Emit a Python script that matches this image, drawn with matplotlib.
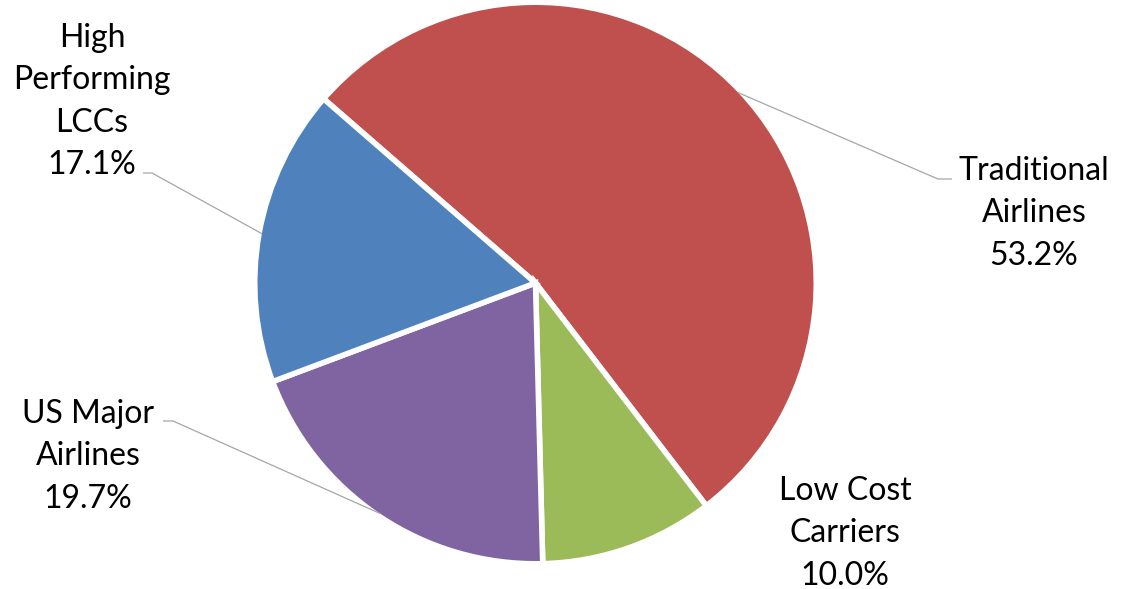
import numpy as np
import matplotlib
matplotlib.use("Agg")
import matplotlib.pyplot as plt

# ---- data ----
categories = ["Traditional\nAirlines", "Low Cost\nCarriers", "US Major\nAirlines", "High\nPerforming\nLCCs"]
shares = [53.2, 10.0, 19.7, 17.1]
colors = ["#C0504D", "#9BBB59", "#8064A2", "#4F81BD"]

# ---- layout (pixel coordinates, y from top) ----
W, H = 1124, 589
cx, cy_img, R = 535.5, 283, 278
edge_lw = 4.0  # points
label_center_x = [1034, 845, 88, 92]
label_first_baseline = [180, 500, 423, 47]
line_step = 42.3
# leader: (elbow x, elbow y, text-side x) or None
leaders = [(938, 179, 952), None, (173, 421, 163), (152, 173, 143)]

plt.rcParams['font.family'] = ['Lato', 'DejaVu Sans']

fig = plt.figure(figsize=(W / 100, H / 100), dpi=100)
ax = fig.add_axes([0, 0, 1, 1])
ax.set_xlim(0, W)
ax.set_ylim(0, H)
ax.axis('off')

def Y(y):
    return H - y

r_draw = R + edge_lw * 100 / 72 / 2
wedges, _ = ax.pie(shares, colors=colors, startangle=139, counterclock=False,
                   center=(cx, Y(cy_img)), radius=r_draw, frame=True,
                   wedgeprops=dict(edgecolor='white', linewidth=edge_lw))
ax.set_xlim(0, W)
ax.set_ylim(0, H)
ax.set_aspect('auto')
ax.axis('off')

for i, (w, cat, val) in enumerate(zip(wedges, categories, shares)):
    lines = cat.split("\n") + [f"{val:.1f}%"]
    for k, ln in enumerate(lines):
        ax.text(label_center_x[i], Y(label_first_baseline[i] + k * line_step), ln,
                ha='center', va='baseline', fontsize=23, color='black')
    if leaders[i] is not None:
        ang = np.deg2rad((w.theta1 + w.theta2) / 2)
        px = cx + R * np.cos(ang)
        py = Y(cy_img) + R * np.sin(ang)
        ex, ey, tx = leaders[i]
        ax.plot([px, ex, tx], [py, Y(ey), Y(ey)], color='#A6A6A6', lw=0.9,
                solid_capstyle='butt')

fig.savefig("out.png", dpi=100, facecolor='white')
